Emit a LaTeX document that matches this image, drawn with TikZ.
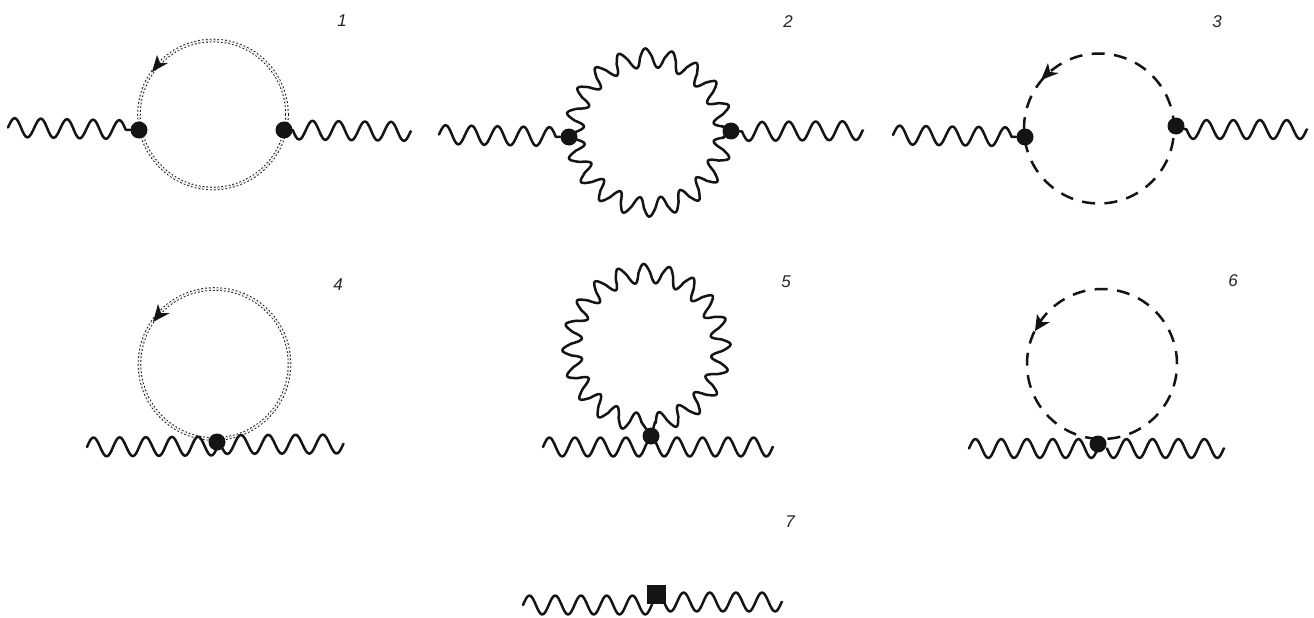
\documentclass[tikz,border=0pt]{standalone}
\usepackage{fontspec}
\setmainfont{Liberation Sans}
\usetikzlibrary{decorations}
\definecolor{ink}{HTML}{141414}
\makeatletter
\pgfdeclaredecoration{sinewave}{up}{
  \state{up}[switch if less than=+.45\pgfdecorationsegmentlength to final,
             width=+.5\pgfdecorationsegmentlength,next state=down]{
    \pgfpathcurveto
      {\pgfqpoint{.0815\pgfdecorationsegmentlength}{.5123\pgfdecorationsegmentamplitude}}
      {\pgfqpoint{.1595\pgfdecorationsegmentlength}{\pgfdecorationsegmentamplitude}}
      {\pgfqpoint{.25\pgfdecorationsegmentlength}{\pgfdecorationsegmentamplitude}}
    \pgfpathcurveto
      {\pgfqpoint{.3405\pgfdecorationsegmentlength}{\pgfdecorationsegmentamplitude}}
      {\pgfqpoint{.4185\pgfdecorationsegmentlength}{.5123\pgfdecorationsegmentamplitude}}
      {\pgfqpoint{.5\pgfdecorationsegmentlength}{0pt}}
  }
  \state{down}[switch if less than=+.45\pgfdecorationsegmentlength to final,
             width=+.5\pgfdecorationsegmentlength,next state=up]{
    \pgfpathcurveto
      {\pgfqpoint{.0815\pgfdecorationsegmentlength}{-.5123\pgfdecorationsegmentamplitude}}
      {\pgfqpoint{.1595\pgfdecorationsegmentlength}{-\pgfdecorationsegmentamplitude}}
      {\pgfqpoint{.25\pgfdecorationsegmentlength}{-\pgfdecorationsegmentamplitude}}
    \pgfpathcurveto
      {\pgfqpoint{.3405\pgfdecorationsegmentlength}{-\pgfdecorationsegmentamplitude}}
      {\pgfqpoint{.4185\pgfdecorationsegmentlength}{-.5123\pgfdecorationsegmentamplitude}}
      {\pgfqpoint{.5\pgfdecorationsegmentlength}{0pt}}
  }
  \state{final}{\pgfpathlineto{\pgfpointdecoratedpathlast}}
}
\makeatother
\tikzset{
  x=1pt,y=1pt,
  wire/.style={draw=ink,line width=2.5pt,line cap=round,line join=round},
  wave/.style={wire,decorate,decoration={sinewave,amplitude=9.5pt,segment length=#1}},
  wavem/.style={wire,decorate,decoration={sinewave,amplitude=-9.5pt,segment length=#1}},
  vertex/.style={circle,fill=ink,draw=none,inner sep=0pt,minimum size=17pt},
  insertion/.style={rectangle,fill=ink,draw=none,inner sep=0pt,minimum size=19pt},
  ghost/.style={draw=ink,line width=0.95pt,double=white,double distance=1.7pt,dash pattern=on 1.7pt off 2.1pt},
  scalar/.style={draw=ink,line width=2.5pt,dash pattern=on 13pt off 9.43pt},
  head/.style={fill=ink,draw=none},
  lab/.style={font=\fontsize{17}{20}\selectfont\itshape,text=black!85,inner sep=0pt,anchor=center}
}
\begin{document}
\begin{tikzpicture}
\useasboundingbox[fill=white] (0,-618) rectangle (1314,0);
% 1
\coordinate (c1) at (213,-114.5);
\draw[ghost] (c1) circle[radius=74];
\fill[head] (152,-72) -- (157,-55) -- (160,-63) -- (168,-63) -- cycle;
\node[vertex] (v1l) at (139,-130) {};
\node[vertex] (v1r) at (284,-130) {};
\coordinate (f1l) at (8,-127.5);
\coordinate (f1r) at (411,-131.5);
\draw[wave=26.15pt] (f1l) -- (v1l);
\draw[wavem=26.2pt] (v1r.east) -- (f1r);
\node[lab] (n1) at (342,-21) {1};
% 2
\coordinate (c2) at (649,-132.5);
\coordinate (t2s) at ([shift={(180:74.5)}]c2);
\coordinate (b2s) at ([shift={(185:74.5)}]c2);
\node[vertex] (v2l) at (569,-137) {};
\node[vertex] (v2r) at (731,-131) {};
\draw[wavem=24.05pt] (t2s) arc[start angle=180,end angle=4,radius=74.5] coordinate (t2e);
\draw[wave=23.44pt] (b2s) arc[start angle=185,end angle=356.5,radius=74.5] coordinate (b2e);
\draw[wire] (t2e) -- (v2r) (b2e) -- (v2r);
\coordinate (f2l) at (439,-134.5);
\coordinate (s2r) at (742,-131.5);
\coordinate (f2r) at (863,-130.5);
\draw[wire] (v2r) -- (s2r);
\draw[wave=25.95pt] (f2l) -- (v2l);
\draw[wavem=26.8pt] (s2r) -- (f2r);
\node[lab] (n2) at (788,-22) {2};
% 3
\coordinate (c3) at (1099,-128.5);
\draw[scalar] (c3) circle[radius=75];
\fill[head] (1041,-80) -- (1048,-63) -- (1050,-72) -- (1059,-73) -- cycle;
\node[vertex] (v3l) at (1025,-137) {};
\node[vertex] (v3r) at (1176,-126) {};
\coordinate (f3l) at (893,-135);
\coordinate (s3r) at (1186.5,-129.5);
\coordinate (f3r) at (1307,-129.5);
\draw[wire] (v3r) -- (s3r);
\draw[wave=26.35pt] (f3l) -- (v3l);
\draw[wavem=26.7pt] (s3r) -- (f3r);
\node[lab] (n3) at (1217,-22) {3};
% 4
\coordinate (c4) at (214.5,-364);
\draw[ghost] (c4) circle[radius=75];
\fill[head] (153,-322) -- (158,-304) -- (161,-313) -- (170,-313) -- cycle;
\coordinate (f4l) at (87,-447);
\coordinate (e4l) at (218,-446);
\coordinate (s4r) at (220.5,-444.5);
\coordinate (f4r) at (343.5,-444);
\draw[wave=26.15pt] (f4l) -- (e4l);
\draw[wavem=27.3pt] (s4r) -- (f4r);
\node[vertex] (v4) at (217,-442) {};
\node[lab] (n4) at (338,-285) {4};
% 5
\coordinate (c5) at (646.5,-348);
\coordinate (a5) at ([shift={(-93.8:74.5)}]c5);
\node[vertex] (v5) at (651,-436) {};
\draw[wavem=23.29pt] (a5) arc[start angle=-93.8,end angle=-443.4,radius=74.5] coordinate (b5);
\draw[wire] (v5) -- (a5) (v5) -- (b5);
\coordinate (f5l) at (543,-447);
\coordinate (f5r) at (773,-447);
\draw[wave=25.52pt] (f5l) -- (f5r);
\node[lab] (n5) at (786,-282) {5};
% 6
\coordinate (c6) at (1102,-364);
\draw[scalar] (c6) circle[radius=75];
\fill[head] (1035,-331) -- (1037,-314) -- (1042,-322) -- (1050,-322) -- cycle;
\coordinate (f6l) at (969,-448.5);
\coordinate (e6l) at (1098,-448.5);
\coordinate (s6r) at (1107,-448.5);
\coordinate (f6r) at (1224,-448.5);
\draw[wave=25.75pt] (f6l) -- (e6l);
\draw[wavem=25.95pt] (s6r) -- (f6r);
\node[vertex] (v6) at (1098,-444) {};
\node[lab] (n6) at (1233,-281) {6};
% 7
\coordinate (f7l) at (523,-605);
\coordinate (e7l) at (652,-605);
\coordinate (s7r) at (664,-602);
\coordinate (f7r) at (782,-602);
\draw[wave=25.75pt] (f7l) -- (e7l);
\draw[wavem=26.15pt] (s7r) -- (f7r);
\node[insertion] (v7) at (656.5,-594.5) {};
\node[lab] (n7) at (790,-522) {7};
\end{tikzpicture}
\end{document}
